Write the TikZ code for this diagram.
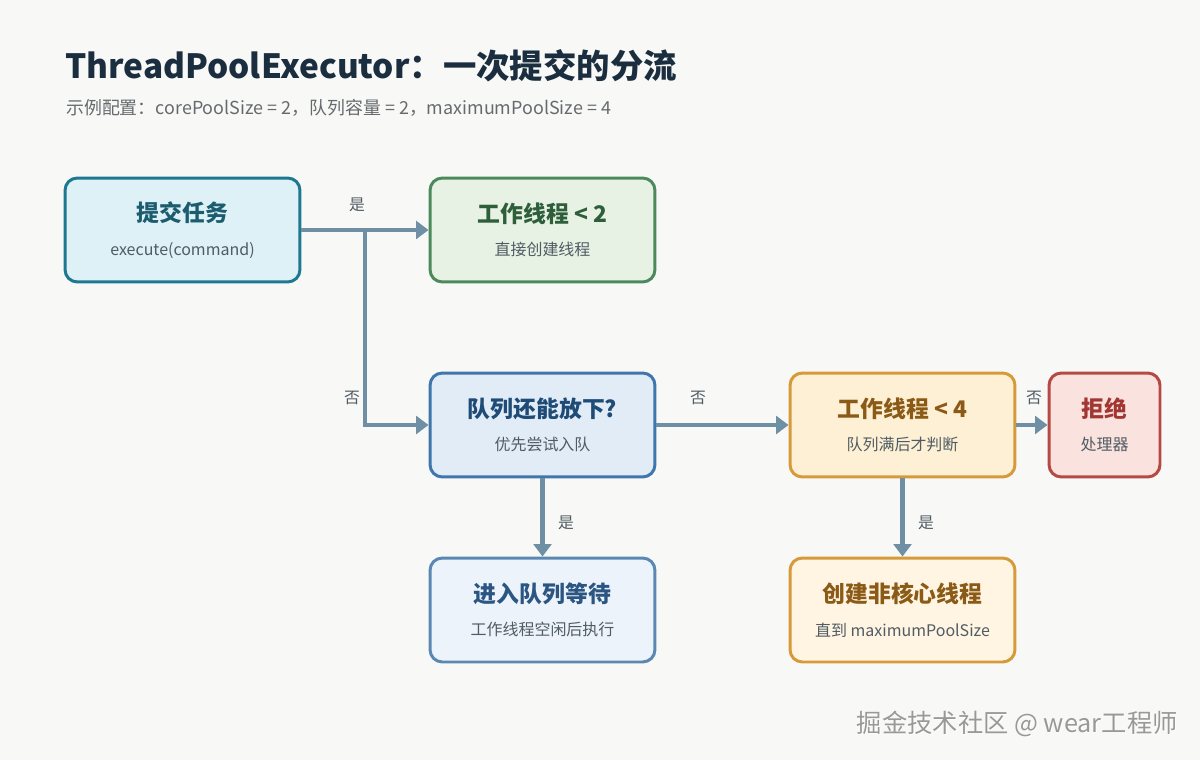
\documentclass[tikz,border=0pt]{standalone}
\usepackage{fontspec}
\setmainfont{Noto Sans CJK SC}
\usepackage{tikz}
\usetikzlibrary{arrows.meta,positioning,calc}

\definecolor{bgC}{HTML}{F8F8F6}
\definecolor{flowC}{HTML}{6F8FA5}
\definecolor{headC}{HTML}{1B2E40}
\definecolor{noteC}{HTML}{666A6E}
\definecolor{subC}{HTML}{505C64}
\definecolor{tealF}{HTML}{DDF1F6}\definecolor{tealD}{HTML}{1E7891}\definecolor{tealT}{HTML}{1B5C6E}
\definecolor{greenF}{HTML}{E7F2E4}\definecolor{greenD}{HTML}{4C8A5C}\definecolor{greenT}{HTML}{2F5E3A}
\definecolor{blueF}{HTML}{E2ECF7}\definecolor{blueD}{HTML}{3F76AD}\definecolor{blueT}{HTML}{1F4B77}
\definecolor{paleF}{HTML}{EDF3FA}\definecolor{paleD}{HTML}{5B88B3}\definecolor{paleT}{HTML}{2B5582}
\definecolor{orangeF}{HTML}{FDF0D5}\definecolor{orangeD}{HTML}{D69A3A}\definecolor{orangeT}{HTML}{8A5A16}
\definecolor{creamF}{HTML}{FFF5E2}
\definecolor{redF}{HTML}{FAE2DF}\definecolor{redD}{HTML}{B54A45}\definecolor{redT}{HTML}{A23632}

\newcommand{\boxlabel}[3]{{\fontsize{13}{15}\selectfont\bfseries\color{#1}#2}\\[7pt]{\fontsize{9.1}{11}\selectfont\color{subC}#3}}

\tikzset{
  flowbox/.style={draw, line width=1.7pt, rounded corners=7pt, align=center,
                  minimum width=4.5cm, minimum height=2.08cm},
  flow/.style={draw=flowC, line width=2.3pt, -{Triangle[length=7pt,width=10pt]}},
  branch/.style={font=\fontsize{9}{11}\selectfont, text=subC}
}

\begin{document}
\begin{tikzpicture}[x=0.02cm,y=-0.02cm]
\useasboundingbox[fill=bgC] (0,0) rectangle (1200,760);

% heading
\node[anchor=base west,font=\fontsize{19}{23}\selectfont\bfseries,text=headC] (head) at (59,79) {ThreadPoolExecutor：一次提交的分流};
\node[anchor=base west,font=\fontsize{10.2}{12}\selectfont,text=noteC] (note) at (60,115) {示例配置：corePoolSize = 2，队列容量 = 2，maximumPoolSize = 4};

% boxes
\node[flowbox,fill=tealF,draw=tealD,minimum width=4.7cm] (submit) at (182.5,230) {\boxlabel{tealT}{提交任务}{execute(command)}};
\node[flowbox,fill=greenF,draw=greenD] (core) at (542.5,230) {\boxlabel{greenT}{工作线程 < 2}{直接创建线程}};
\node[flowbox,fill=blueF,draw=blueD] (queue) at (542.5,425) {\boxlabel{blueT}{队列还能放下?}{优先尝试入队}};
\node[flowbox,fill=paleF,draw=paleD] (wait) at (542.5,610) {\boxlabel{paleT}{进入队列等待}{工作线程空闲后执行}};
\node[flowbox,fill=orangeF,draw=orangeD] (max) at (902.5,425) {\boxlabel{orangeT}{工作线程 < 4}{队列满后才判断}};
\node[flowbox,fill=creamF,draw=orangeD] (extra) at (902.5,610) {\boxlabel{orangeT}{创建非核心线程}{直到 maximumPoolSize}};
\node[flowbox,fill=redF,draw=redD,minimum width=2.22cm] (reject) at (1104.5,425) {\boxlabel{redT}{拒绝}{处理器}};

% connectors
\coordinate (split) at (365,230);
\draw[flow] (submit) -- (core);
\draw[flow] (split) |- (queue);
\draw[flow] (queue) -- (max);
\draw[flow] (max) -- (reject);
\draw[flow] (queue) -- (wait);
\draw[flow] (max) -- (extra);

\node[branch] (yes1) at (357,205) {是};
\node[branch] (no1) at (352,398) {否};
\node[branch] (no2) at (698,398) {否};
\node[branch] (no3) at (1034,398) {否};
\node[branch] (yes2) at (566,523) {是};
\node[branch] (yes3) at (926,523) {是};

% watermark
\node[anchor=east,inner sep=0pt,font=\fontsize{14.4}{17}\selectfont,text=white] (markshade) at (1178.8,724.8) {掘金技术社区 @ wear工程师};
\node[anchor=east,inner sep=0pt,font=\fontsize{14.4}{17}\selectfont,text=gray!80] (mark) at (1178,724) {掘金技术社区 @ wear工程师};
\end{tikzpicture}
\end{document}
